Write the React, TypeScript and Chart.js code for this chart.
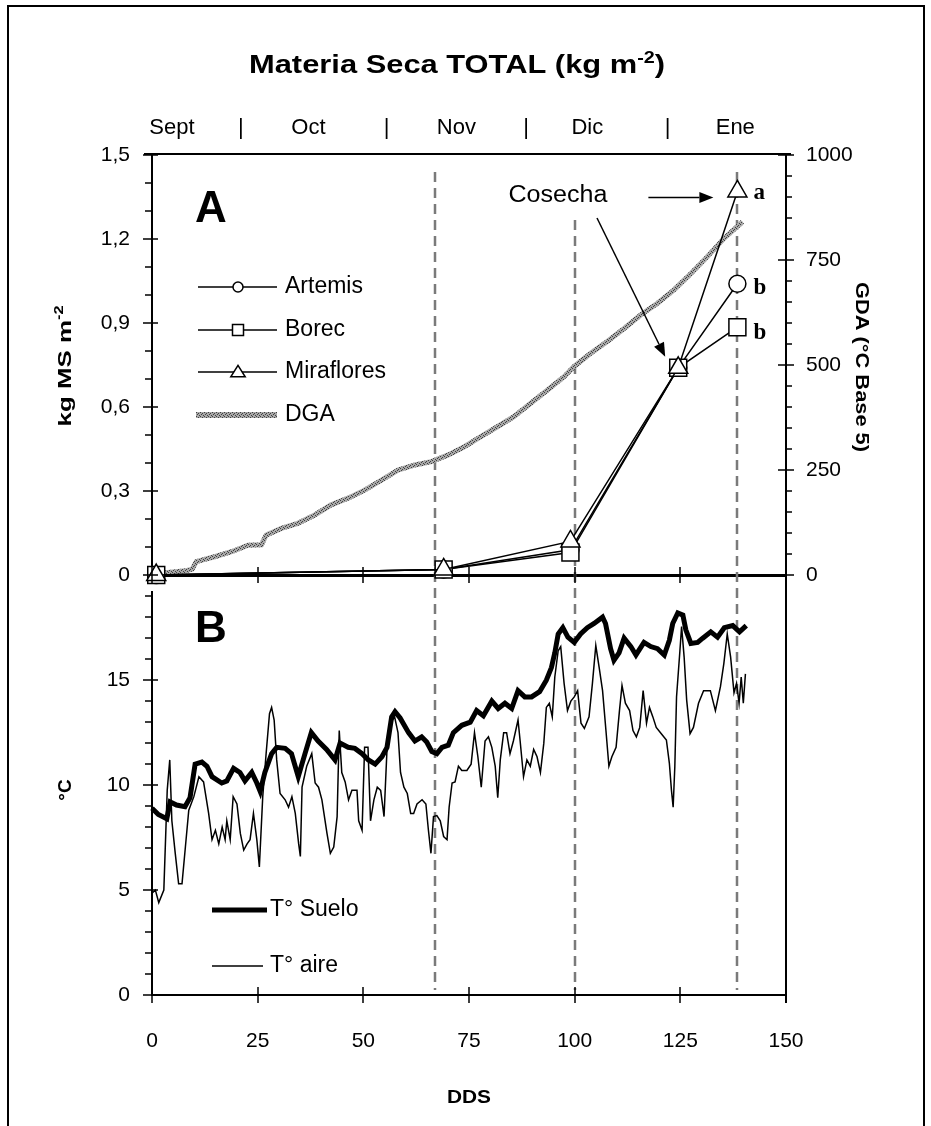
import React, { useEffect, useRef } from 'react';
import { Chart, registerables } from 'chart.js';

Chart.register(...registerables);

const W = 931;
const H = 1126;
const SANS = '"Liberation Sans", Arial, sans-serif';
const SERIF = '"Liberation Serif", "Times New Roman", serif';

// ---------- Panel A: dry matter (kg MS m-2) ----------
const HARVEST_DDS = [1, 69, 99, 124.5, 138.5];
const ARTEMIS = [0, 0.02, 0.09, 0.74, 1.04];
const BOREC = [0, 0.02, 0.08, 0.74, 0.885];
const MIRAFLORES = [0, 0.02, 0.12, 0.74, 1.37];
const SIG_ARTEMIS = 'b';
const SIG_BOREC = 'b';
const SIG_MIRAFLORES = 'a';

// Accumulated degree days (GDA, °C base 5)
const DGA_DDS = [0, 2, 8, 9.5, 10.5, 15, 19, 22.7, 25.9, 27, 30.6, 34.5, 38.5, 42.4, 46.4, 50.3, 54.3, 58.2, 62.2, 66.1, 70.1, 74, 77.7, 81.7, 85.6, 89.6, 93.5, 97.5, 99.8, 103.8, 107.7, 111.7, 115.6, 119.6, 123.5, 127.5, 131.4, 135.4, 139.7];
const DGA_VALUES = [0, 4, 10, 14, 32, 44, 56, 71, 72, 95, 111, 123, 143, 167, 183, 202, 226, 250, 262, 270, 286, 306, 329, 353, 377, 409, 440, 472, 496, 528, 556, 587, 619, 647, 679, 718, 758, 802, 841];

// ---------- Panel B: temperatures ----------
const SOIL_DDS = [0, 1.5, 3.5, 4.3, 5.8, 7.8, 9, 10.2, 11.8, 13, 14.2, 16.5, 17.7, 19.3, 20.8, 22, 23.6, 24.8, 25.6, 26.7, 28.3, 29.5, 31.5, 33, 34.6, 36.2, 37.7, 39.3, 41.3, 43.3, 44.5, 46.4, 48, 49.7, 51.2, 52.8, 54.4, 55.6, 56.7, 57.5, 58.7, 60.7, 62.2, 63.8, 65, 66.2, 67.4, 68.6, 70.1, 71.3, 73.3, 75.3, 76.8, 78.4, 80.4, 81.9, 83.5, 85.1, 86.6, 88.2, 89.8, 91.7, 93.3, 94.5, 95.3, 96.1, 97.2, 98.4, 99.9, 101.4, 103, 104.6, 106.6, 107.3, 108.5, 109.3, 110.5, 111.7, 113.3, 114.5, 116.4, 118, 119.6, 121.2, 122.4, 123.2, 124.4, 125.6, 126.3, 127.5, 129.1, 130.3, 132.2, 133.8, 135.4, 137.4, 139, 140.6];
const SOIL_T = [8.9, 8.6, 8.4, 9.2, 9.05, 8.97, 9.4, 11.0, 11.1, 10.9, 10.4, 10.1, 10.2, 10.8, 10.6, 10.2, 10.6, 10.1, 9.7, 10.6, 11.5, 11.8, 11.75, 11.5, 10.4, 11.5, 12.5, 12.1, 11.7, 11.2, 12.0, 11.8, 11.75, 11.5, 11.2, 11.0, 11.35, 11.8, 13.25, 13.5, 13.2, 12.5, 12.1, 12.3, 12.05, 11.6, 11.5, 11.8, 11.9, 12.5, 12.85, 13.0, 13.55, 13.3, 14.0, 13.65, 13.9, 13.65, 14.5, 14.2, 14.2, 14.45, 15.0, 15.6, 16.3, 17.2, 17.5, 17.05, 16.8, 17.2, 17.5, 17.7, 18.0, 17.7, 16.5, 15.95, 16.3, 17.0, 16.6, 16.2, 16.8, 16.6, 16.5, 16.2, 16.9, 17.7, 18.2, 18.1, 17.4, 16.75, 16.8, 17.0, 17.3, 17.05, 17.5, 17.6, 17.3, 17.6];

const AIR_DDS = [0, 0.8, 1.6, 2.8, 3.6, 4.2, 4.7, 5.5, 6.3, 7.1, 7.9, 8.7, 9.9, 11.1, 12.2, 13.4, 14.2, 15, 15.8, 16.6, 17.3, 17.7, 18.5, 19.2, 20.1, 20.9, 21.7, 22.5, 23.2, 24, 24.8, 25.4, 26.2, 27, 27.8, 28.3, 28.9, 29.5, 30.3, 31.5, 32.3, 33.1, 33.9, 34.7, 35.1, 35.5, 36.6, 37.8, 38.6, 39.4, 40.2, 41.4, 42.2, 43, 43.8, 44.3, 44.9, 45.7, 46.5, 47.3, 48.5, 48.9, 49.7, 50.3, 51.1, 51.7, 52.5, 53.3, 54.1, 54.9, 55.6, 56.4, 57.4, 58.2, 58.8, 59.6, 60.4, 61.2, 61.9, 62.7, 63.9, 64.8, 65.4, 66, 66.6, 67.4, 68.2, 69, 69.8, 70.3, 71, 71.7, 72.5, 73.3, 74.5, 75.5, 76.3, 77.1, 77.9, 78.8, 79.6, 80.4, 81.2, 81.8, 82.4, 83.2, 83.9, 84.7, 85.5, 86.6, 87.1, 87.9, 88.7, 89.5, 90.3, 91.1, 91.9, 92.7, 93.3, 94, 94.7, 95.3, 96.1, 96.7, 97.5, 98.3, 99.1, 99.9, 100.7, 101.5, 102.3, 103.4, 104.2, 105, 105.8, 106.6, 107.4, 108.1, 108.8, 109.8, 110.6, 111.2, 112, 113, 113.8, 114.6, 115.4, 116.2, 117, 117.7, 118.5, 119.3, 120.5, 121.7, 122.4, 122.9, 123.3, 123.7, 124.1, 124.9, 125.3, 125.9, 126.5, 127.3, 128.1, 129.3, 130.5, 132.1, 133.3, 134.5, 135.3, 136.1, 136.9, 137.7, 138.3, 138.9, 139.4, 139.9, 140.4];
const AIR_T = [4.85, 5.0, 4.4, 5.0, 9.75, 11.2, 8.3, 6.75, 5.3, 5.3, 7.05, 8.8, 9.45, 10.4, 10.15, 8.65, 7.4, 7.85, 7.2, 8.0, 7.4, 8.3, 7.4, 9.45, 9.1, 7.7, 6.9, 7.2, 7.4, 8.65, 7.4, 6.1, 9.45, 11.5, 13.4, 13.7, 13.1, 11.2, 9.6, 9.3, 8.95, 9.45, 8.65, 7.2, 6.6, 9.9, 10.9, 11.5, 10.1, 9.9, 9.3, 7.7, 6.75, 7.05, 8.5, 12.6, 10.6, 10.15, 9.3, 9.75, 9.75, 8.3, 7.85, 11.8, 11.8, 8.3, 9.3, 9.9, 9.75, 8.5, 11.7, 12.95, 13.25, 12.5, 10.6, 9.9, 9.6, 8.65, 8.65, 9.1, 9.3, 9.1, 7.85, 6.75, 8.5, 8.55, 8.3, 7.55, 7.4, 8.95, 10.1, 10.15, 10.9, 10.7, 10.7, 11.0, 12.5, 11.35, 9.9, 12.1, 12.3, 11.8, 10.9, 9.4, 11.2, 12.5, 12.5, 11.5, 12.1, 13.1, 12.1, 10.4, 11.2, 10.9, 11.7, 11.35, 10.6, 12.0, 13.7, 13.9, 13.25, 15.15, 16.4, 16.6, 14.85, 13.55, 14.0, 14.2, 14.5, 12.95, 12.7, 13.25, 14.85, 16.65, 15.6, 14.5, 12.6, 10.9, 11.35, 11.8, 13.55, 14.75, 13.9, 13.55, 12.6, 12.3, 12.75, 14.5, 12.95, 13.7, 13.25, 12.75, 12.45, 12.15, 11.05, 9.75, 8.95, 10.9, 14.2, 16.4, 17.55, 16.1, 14.05, 12.45, 12.75, 13.9, 14.5, 14.5, 13.55, 14.7, 15.8, 17.2, 16.1, 14.4, 14.85, 13.9, 15.15, 13.9, 15.3];

// ---------- Axis / annotation values ----------
const MONTHS = ['Sept', 'Oct', 'Nov', 'Dic', 'Ene'];
const MONTH_CENTER_DDS = [4.7, 37, 72, 103, 138];
const MONTH_BOUND_DDS = [21, 55.5, 88.5, 122];
const HARVEST_LINES_DDS = [67, 100, 138.5];
const KG_TICKS = [0, 0.3, 0.6, 0.9, 1.2, 1.5];
const GDA_TICKS = [0, 250, 500, 750, 1000];
const TEMP_TICKS = [0, 5, 10, 15];
const DDS_TICKS = [0, 25, 50, 75, 100, 125, 150];

const pts = (xs: number[], ys: number[]) => xs.map((x, i) => ({ x, y: ys[i] }));

type Piece = { t: string; sup?: boolean };

function drawRich(ctx: any, pieces: Piece[], size: number, cx: number, cy: number, rot: number, targetLen?: number, weight = 'bold') {
  ctx.save();
  ctx.translate(cx, cy);
  ctx.rotate(rot);
  const main = `${weight} ${size}px ${SANS}`;
  const sup = `${weight} ${Math.round(size * 0.65)}px ${SANS}`;
  let total = 0;
  const widths = pieces.map((p) => {
    ctx.font = p.sup ? sup : main;
    const w = ctx.measureText(p.t).width;
    total += w;
    return w;
  });
  const sx = targetLen ? targetLen / total : 1;
  ctx.scale(sx, 1);
  let x = -total / 2;
  ctx.textAlign = 'left';
  ctx.textBaseline = 'alphabetic';
  ctx.fillStyle = '#000';
  const base = size * 0.36;
  pieces.forEach((p, i) => {
    ctx.font = p.sup ? sup : main;
    ctx.fillText(p.t, x, p.sup ? base - size * 0.42 : base);
    x += widths[i];
  });
  ctx.restore();
}

function yTicks(ctx: any, scale: any, axisX: number, dir: number, step: number, max: number, out: number, inn: number) {
  const n = Math.floor(max / step + 1e-6);
  for (let i = 0; i <= n; i++) {
    const py = Math.round(scale.getPixelForValue(i * step));
    ctx.moveTo(axisX + dir * out, py);
    ctx.lineTo(axisX - dir * inn, py);
  }
}

function xTicks(ctx: any, scale: any, axisY: number, values: number[], out: number, inn: number) {
  values.forEach((v) => {
    const px = Math.round(scale.getPixelForValue(v));
    ctx.moveTo(px, axisY + out);
    ctx.lineTo(px, axisY - inn);
  });
}

function marker(ctx: any, style: string, x: number, y: number, s: number) {
  ctx.beginPath();
  if (style === 'circle') ctx.arc(x, y, s, 0, Math.PI * 2);
  else if (style === 'rect') ctx.rect(x - s, y - s, 2 * s, 2 * s);
  else {
    ctx.moveTo(x, y - s * 1.1);
    ctx.lineTo(x + s * 1.2, y + s * 0.8);
    ctx.lineTo(x - s * 1.2, y + s * 0.8);
    ctx.closePath();
  }
  ctx.fillStyle = '#fff';
  ctx.fill();
  ctx.lineWidth = 1.5;
  ctx.strokeStyle = '#000';
  ctx.stroke();
}

function arrow(ctx: any, x1: number, y1: number, x2: number, y2: number) {
  const a = Math.atan2(y2 - y1, x2 - x1);
  const L = 14;
  const hw = 5.5;
  const bx = x2 - Math.cos(a) * L;
  const by = y2 - Math.sin(a) * L;
  ctx.beginPath();
  ctx.moveTo(x1, y1);
  ctx.lineTo(bx, by);
  ctx.lineWidth = 1.5;
  ctx.strokeStyle = '#000';
  ctx.stroke();
  ctx.beginPath();
  ctx.moveTo(x2, y2);
  ctx.lineTo(bx + Math.sin(a) * hw, by - Math.cos(a) * hw);
  ctx.lineTo(bx - Math.sin(a) * hw, by + Math.cos(a) * hw);
  ctx.closePath();
  ctx.fillStyle = '#000';
  ctx.fill();
}

function makeHatch(): any {
  const c = document.createElement('canvas');
  c.width = 4;
  c.height = 4;
  const g = c.getContext('2d')!;
  g.fillStyle = '#a8a8a8';
  g.fillRect(0, 0, 4, 4);
  g.fillStyle = '#404040';
  g.fillRect(0, 0, 1, 1);
  g.fillRect(2, 1, 1, 1);
  g.fillRect(1, 2, 1, 1);
  g.fillRect(3, 3, 1, 1);
  const p = g.createPattern(c, 'repeat');
  return p || '#8c8c8c';
}

const tickFont = { family: SANS, size: 21 };

export default function App() {
  const refA = useRef<HTMLCanvasElement>(null);
  const refB = useRef<HTMLCanvasElement>(null);

  useEffect(() => {
    const hatch = makeHatch();

    const panelA = {
      id: 'panelA',
      beforeDatasetsDraw(chart: any) {
        const { ctx } = chart;
        const x = chart.scales.x;
        ctx.save();
        ctx.strokeStyle = '#7a7a7a';
        ctx.lineWidth = 2.5;
        ctx.setLineDash([10, 6]);
        HARVEST_LINES_DDS.forEach((d) => {
          const px = Math.round(x.getPixelForValue(d));
          ctx.beginPath();
          ctx.moveTo(px, 172);
          ctx.lineTo(px, 990);
          ctx.stroke();
        });
        ctx.restore();
      },
      afterDraw(chart: any) {
        const { ctx, chartArea } = chart;
        const { x, y, y2 } = chart.scales;
        ctx.save();
        // top border
        ctx.strokeStyle = '#000';
        ctx.lineWidth = 2;
        ctx.beginPath();
        ctx.moveTo(chartArea.left - 8, chartArea.top - 1);
        ctx.lineTo(chartArea.right + 5, chartArea.top - 1);
        ctx.stroke();
        // ticks
        ctx.lineWidth = 1.5;
        ctx.beginPath();
        yTicks(ctx, y, chartArea.left, -1, 0.3, 1.5, 9, 6);
        yTicks(ctx, y, chartArea.left, -1, 0.1, 1.5, 7, 0);
        yTicks(ctx, y2, chartArea.right, 1, 250, 1000, 8, 8);
        yTicks(ctx, y2, chartArea.right, 1, 50, 1000, 6, 0);
        xTicks(ctx, x, chartArea.bottom, DDS_TICKS, 8, 8);
        ctx.stroke();

        // months row
        ctx.fillStyle = '#000';
        ctx.font = `22px ${SANS}`;
        ctx.textAlign = 'center';
        ctx.textBaseline = 'middle';
        MONTHS.forEach((m, i) => ctx.fillText(m, x.getPixelForValue(MONTH_CENTER_DDS[i]), 128));
        MONTH_BOUND_DDS.forEach((d) => ctx.fillText('|', x.getPixelForValue(d), 128));

        // panel letter
        ctx.font = `bold 44px ${SANS}`;
        ctx.textAlign = 'center';
        ctx.textBaseline = 'alphabetic';
        ctx.fillText('A', 211, 222);

        // legend
        const leg = [
          { label: 'Artemis', style: 'circle', s: 5, yy: 287 },
          { label: 'Borec', style: 'rect', s: 5.5, yy: 330 },
          { label: 'Miraflores', style: 'triangle', s: 6, yy: 372 },
        ];
        leg.forEach((it) => {
          ctx.beginPath();
          ctx.moveTo(198, it.yy);
          ctx.lineTo(277, it.yy);
          ctx.lineWidth = 1.5;
          ctx.strokeStyle = '#000';
          ctx.stroke();
          marker(ctx, it.style, 238, it.yy, it.s);
        });
        ctx.beginPath();
        ctx.moveTo(196, 415);
        ctx.lineTo(277, 415);
        ctx.lineWidth = 6;
        ctx.strokeStyle = hatch;
        ctx.stroke();
        ctx.fillStyle = '#000';
        ctx.font = `23px ${SANS}`;
        ctx.textAlign = 'left';
        ctx.textBaseline = 'middle';
        ['Artemis', 'Borec', 'Miraflores', 'DGA'].forEach((t, i) => ctx.fillText(t, 285, [287, 330, 372, 415][i]));

        // Cosecha annotation
        ctx.fillStyle = '#fff';
        ctx.fillRect(503, 170, 114, 44);
        drawRich(ctx, [{ t: 'Cosecha' }], 23, 558, 194, 0, 99, 'normal');
        const lastI = HARVEST_DDS.length - 1;
        const pxLast = x.getPixelForValue(HARVEST_DDS[lastI]);
        const pyMir = y.getPixelForValue(MIRAFLORES[lastI]);
        arrow(ctx, pxLast - 89, pyMir + 6, pxLast - 24, pyMir + 6);
        const pxH = x.getPixelForValue(HARVEST_DDS[3]);
        const pyH = y.getPixelForValue(BOREC[3]);
        arrow(ctx, 597, 218, pxH - 13, pyH - 11);

        // significance letters
        ctx.fillStyle = '#000';
        ctx.font = `bold 23px ${SERIF}`;
        ctx.textAlign = 'left';
        ctx.textBaseline = 'middle';
        ctx.fillText(SIG_MIRAFLORES, pxLast + 16, pyMir + 2);
        ctx.fillText(SIG_ARTEMIS, pxLast + 16, y.getPixelForValue(ARTEMIS[lastI]) + 4);
        ctx.fillText(SIG_BOREC, pxLast + 16, y.getPixelForValue(BOREC[lastI]) + 6);

        // titles
        drawRich(ctx, [{ t: 'Materia Seca TOTAL (kg m' }, { t: '-2', sup: true }, { t: ')' }], 25, 457, 64, 0, 416);
        drawRich(ctx, [{ t: 'kg MS m' }, { t: '-2', sup: true }], 19, 64, 366, -Math.PI / 2, 121);
        drawRich(ctx, [{ t: 'GDA (°C Base 5)' }], 18, 862, 367, Math.PI / 2, 170);
        ctx.restore();
      },
    };

    const panelB = {
      id: 'panelB',
      afterDraw(chart: any) {
        const { ctx, chartArea } = chart;
        const { x, y } = chart.scales;
        ctx.save();
        ctx.strokeStyle = '#000';
        ctx.lineWidth = 2;
        ctx.beginPath();
        ctx.moveTo(chartArea.right, 575);
        ctx.lineTo(chartArea.right, chartArea.bottom + 8);
        ctx.stroke();
        ctx.lineWidth = 1.5;
        ctx.beginPath();
        yTicks(ctx, y, chartArea.left, -1, 5, 19, 9, 6);
        yTicks(ctx, y, chartArea.left, -1, 1, 19, 7, 0);
        xTicks(ctx, x, chartArea.bottom, DDS_TICKS, 8, 8);
        ctx.stroke();

        ctx.fillStyle = '#000';
        ctx.font = `bold 44px ${SANS}`;
        ctx.textAlign = 'center';
        ctx.textBaseline = 'alphabetic';
        ctx.fillText('B', 211, 642);

        // legend B
        ctx.beginPath();
        ctx.moveTo(212, 910);
        ctx.lineTo(267, 910);
        ctx.lineWidth = 5;
        ctx.stroke();
        ctx.beginPath();
        ctx.moveTo(212, 966);
        ctx.lineTo(263, 966);
        ctx.lineWidth = 1.5;
        ctx.stroke();
        ctx.font = `23px ${SANS}`;
        ctx.textAlign = 'left';
        ctx.textBaseline = 'middle';
        ctx.fillText('T° Suelo', 270, 910);
        ctx.fillText('T° aire', 270, 966);

        drawRich(ctx, [{ t: '°C' }], 19, 64, 790, -Math.PI / 2);
        drawRich(ctx, [{ t: 'DDS' }], 19, 469, 1096, 0, 44);

        // outer frame
        ctx.lineWidth = 2;
        ctx.strokeRect(8, 6, 916, 1200);
        ctx.restore();
      },
    };

    const base: any = {
      responsive: false,
      animation: false,
      events: [],
      devicePixelRatio: 1,
      plugins: { legend: { display: false }, tooltip: { enabled: false }, title: { display: false } },
    };

    const chartA = new Chart(refA.current as HTMLCanvasElement, {
      type: 'line',
      data: {
        datasets: [
          {
            label: 'Miraflores', data: pts(HARVEST_DDS, MIRAFLORES), yAxisID: 'y',
            borderColor: '#000', borderWidth: 1.5, pointStyle: 'triangle', pointRadius: 11,
            pointBackgroundColor: '#fff', pointBorderColor: '#000', pointBorderWidth: 1.5, tension: 0, clip: false,
          },
          {
            label: 'Borec', data: pts(HARVEST_DDS, BOREC), yAxisID: 'y',
            borderColor: '#000', borderWidth: 1.5, pointStyle: 'rect', pointRadius: 12,
            pointBackgroundColor: '#fff', pointBorderColor: '#000', pointBorderWidth: 1.5, tension: 0, clip: false,
          },
          {
            label: 'Artemis', data: pts(HARVEST_DDS, ARTEMIS), yAxisID: 'y',
            borderColor: '#000', borderWidth: 1.5, pointStyle: 'circle', pointRadius: 8.5,
            pointBackgroundColor: '#fff', pointBorderColor: '#000', pointBorderWidth: 1.5, tension: 0, clip: false,
          },
          {
            label: 'DGA', data: pts(DGA_DDS, DGA_VALUES), yAxisID: 'y2',
            borderColor: hatch, borderWidth: 5, pointRadius: 0, tension: 0, clip: false,
          },
        ],
      },
      options: {
        ...base,
        layout: { padding: { top: 155, left: 0, right: 0, bottom: 0 }, autoPadding: false },
        scales: {
          x: {
            type: 'linear', position: 'bottom', min: 0, max: 150,
            grid: { display: false }, border: { display: true, color: '#000', width: 3 },
            ticks: { display: false },
            afterFit: (s: any) => { s.height = H - 575; },
          },
          y: {
            type: 'linear', position: 'left', min: 0, max: 1.5,
            grid: { display: false }, border: { display: true, color: '#000', width: 2 },
            afterBuildTicks: (s: any) => { s.ticks = KG_TICKS.map((v) => ({ value: v })); },
            ticks: {
              color: '#000', font: tickFont, padding: 14,
              callback: (v: any) => (Number(v) === 0 ? '0' : Number(v).toFixed(1).replace('.', ',')),
            },
            afterFit: (s: any) => { s.width = 152; },
          },
          y2: {
            type: 'linear', position: 'right', min: 0, max: 1000,
            grid: { display: false }, border: { display: true, color: '#000', width: 2 },
            afterBuildTicks: (s: any) => { s.ticks = GDA_TICKS.map((v) => ({ value: v })); },
            ticks: { color: '#000', font: tickFont, padding: 12, callback: (v: any) => String(v) },
            afterFit: (s: any) => { s.width = W - 786; },
          },
        },
      },
      plugins: [panelA],
    } as any);

    const chartB = new Chart(refB.current as HTMLCanvasElement, {
      type: 'line',
      data: {
        datasets: [
          {
            label: 'T° Suelo', data: pts(SOIL_DDS, SOIL_T),
            borderColor: '#000', borderWidth: 5, pointRadius: 0, tension: 0, clip: false,
          },
          {
            label: 'T° aire', data: pts(AIR_DDS, AIR_T),
            borderColor: '#000', borderWidth: 1.5, pointRadius: 0, tension: 0, clip: false,
          },
        ],
      },
      options: {
        ...base,
        layout: { padding: { top: 592, left: 0, right: W - 786, bottom: 0 }, autoPadding: false },
        scales: {
          x: {
            type: 'linear', position: 'bottom', min: 0, max: 150,
            grid: { display: false }, border: { display: true, color: '#000', width: 2 },
            afterBuildTicks: (s: any) => { s.ticks = DDS_TICKS.map((v) => ({ value: v })); },
            ticks: { color: '#000', font: tickFont, padding: 26, maxRotation: 0 },
            afterFit: (s: any) => { s.height = H - 995; },
          },
          y: {
            type: 'linear', position: 'left', min: 0, max: 19.2,
            grid: { display: false }, border: { display: true, color: '#000', width: 2 },
            afterBuildTicks: (s: any) => { s.ticks = TEMP_TICKS.map((v) => ({ value: v })); },
            ticks: { color: '#000', font: tickFont, padding: 14 },
            afterFit: (s: any) => { s.width = 152; },
          },
        },
      },
      plugins: [panelB],
    } as any);

    return () => {
      chartA.destroy();
      chartB.destroy();
    };
  }, []);

  return (
    <div style={{ position: 'absolute', left: 0, top: 0, width: W, height: H, background: '#fff', overflow: 'hidden' }}>
      <canvas ref={refA} width={W} height={H} style={{ position: 'absolute', left: 0, top: 0 }} />
      <canvas ref={refB} width={W} height={H} style={{ position: 'absolute', left: 0, top: 0 }} />
    </div>
  );
}
